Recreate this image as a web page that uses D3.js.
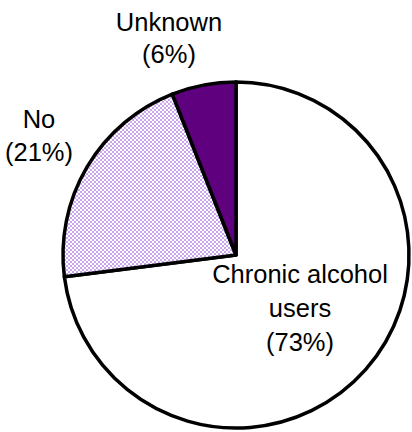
<!DOCTYPE html>
<html><head><meta charset="utf-8">
<script src="https://cdn.jsdelivr.net/npm/d3@7"></script>
<style>body{margin:0;background:#fff}svg{display:block}</style>
</head><body>
<script>
const categories = ["Chronic alcohol users", "No", "Unknown"];
const values = [73, 21, 6];
const labelLines = [["Chronic alcohol", "users", "(73%)"], ["No", "(21%)"], ["Unknown", "(6%)"]];
const fills = ["#ffffff", "url(#dots)", "#5f007f"];

const W = 412, H = 432, cx = 236, cy = 255, r = 173;
const svg = d3.select("body").append("svg").attr("width", W).attr("height", H);
const defs = svg.append("defs");
const pat = defs.append("pattern").attr("id", "dots").attr("patternUnits", "userSpaceOnUse")
  .attr("width", 4).attr("height", 4);
pat.append("rect").attr("width", 4).attr("height", 4).attr("fill", "#ffffff");
pat.append("rect").attr("x", 0).attr("y", 0).attr("width", 2).attr("height", 2).attr("fill", "#c9a6ec");
pat.append("rect").attr("x", 2).attr("y", 2).attr("width", 2).attr("height", 2).attr("fill", "#c9a6ec");

const pie = d3.pie().sort(null).value(d => d)(values);
const arc = d3.arc().innerRadius(0).outerRadius(r);
const g = svg.append("g").attr("transform", `translate(${cx},${cy})`);
g.selectAll("path").data(pie).join("path")
  .attr("d", arc)
  .attr("fill", (d, i) => fills[i])
  .attr("stroke", "#000").attr("stroke-width", 3.5).attr("stroke-linejoin", "round");

const labelPos = [
  {x: 300 - cx, y: 283 - cy, lh: 34},
  {x: 39 - cx, y: 128 - cy, lh: 33},
  {x: 169 - cx, y: 31 - cy, lh: 32}
];
labelLines.forEach((lines, i) => {
  const t = g.append("text").attr("text-anchor", "middle")
    .attr("font-family", "Liberation Sans, Arial, sans-serif")
    .attr("font-size", 25.5).attr("fill", "#000");
  lines.forEach((ln, j) => {
    t.append("tspan").attr("x", labelPos[i].x).attr("y", labelPos[i].y + j * labelPos[i].lh).text(ln);
  });
});
</script>
</body></html>
